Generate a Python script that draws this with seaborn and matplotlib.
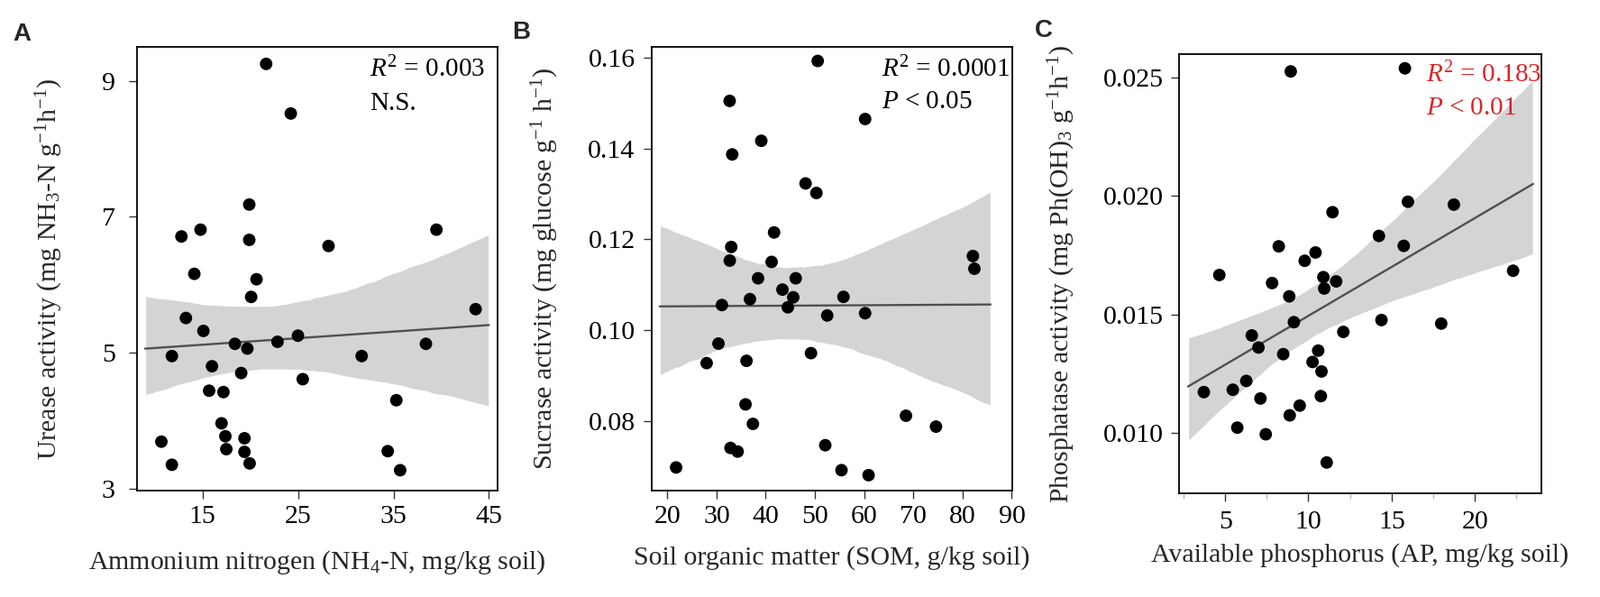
import numpy as np
import seaborn as sns
import matplotlib.pyplot as plt
from matplotlib.collections import PolyCollection

# Panel A: ammonium nitrogen vs urease activity
nh4 = [21.67, 24.25, 19.9, 12.8, 14.8, 19.9, 28.2, 39.5, 14.15, 20.66, 20.1, 13.27,
       15.1, 18.4, 19.7, 22.86, 25.0, 11.8, 16.0, 31.67, 38.4, 19.06, 25.5, 15.7,
       17.2, 35.3, 17.0, 17.4, 19.4, 10.7, 17.5, 19.4, 11.8, 19.94, 34.4, 35.7, 43.6]
urease = [9.25, 8.52, 7.18, 6.71, 6.81, 6.66, 6.57, 6.81, 6.16, 6.08, 5.82, 5.51,
          5.32, 5.13, 5.06, 5.16, 5.25, 4.95, 4.80, 4.95, 5.13, 4.70, 4.61, 4.44,
          4.42, 4.30, 3.96, 3.77, 3.74, 3.69, 3.58, 3.54, 3.35, 3.37, 3.55, 3.27, 5.64]

# Panel B: soil organic matter vs sucrase activity
som = [50.57, 32.67, 60.2, 39.1, 33.2, 48.1, 50.3, 41.7, 33.0, 32.7, 41.2, 38.45,
       46.1, 43.4, 45.6, 36.8, 55.8, 31.1, 44.5, 52.5, 60.2, 30.4, 49.2, 28.0,
       36.1, 35.9, 37.4, 68.5, 74.6, 32.85, 34.3, 52.1, 21.8, 55.4, 60.9, 82.1, 82.4]
sucrase = [0.1593, 0.1505, 0.1465, 0.1417, 0.1387, 0.1323, 0.1302, 0.1215, 0.1183,
           0.1153, 0.1150, 0.1114, 0.1114, 0.1089, 0.1072, 0.1068, 0.1073, 0.1055,
           0.1050, 0.1032, 0.1037, 0.0970, 0.0949, 0.0927, 0.0932, 0.0836, 0.0793,
           0.0811, 0.0787, 0.0740, 0.0732, 0.0746, 0.0697, 0.0691, 0.0680, 0.1163, 0.1135]

# Panel C: available phosphorus vs phosphatase activity
ap = [8.94, 11.45, 14.24, 8.22, 10.43, 9.78, 4.65, 10.9, 11.67, 7.82, 10.95, 8.85,
      9.13, 14.39, 12.1, 6.6, 7.0, 8.49, 10.59, 10.25, 10.79, 6.27, 3.72, 5.46,
      7.12, 10.75, 9.48, 8.88, 5.73, 7.44, 11.1, 15.8, 15.98, 18.74, 15.73, 22.3, 17.98]
phosphatase = [0.02525, 0.01931, 0.01831, 0.01787, 0.01761, 0.01726, 0.01666, 0.01657,
               0.01639, 0.01632, 0.01609, 0.01576, 0.01467, 0.01476, 0.01426, 0.01411,
               0.01360, 0.01332, 0.01347, 0.01299, 0.01259, 0.01219, 0.01172, 0.01182,
               0.01145, 0.01155, 0.01115, 0.01074, 0.01022, 0.00994, 0.00875, 0.02538,
               0.01975, 0.01963, 0.01789, 0.01684, 0.01461]

sns.set_style('ticks')
plt.rcParams['font.family'] = ['Liberation Serif', 'DejaVu Serif']
plt.rcParams['mathtext.fontset'] = 'custom'
plt.rcParams['mathtext.rm'] = 'Liberation Serif'
plt.rcParams['mathtext.it'] = 'Liberation Serif:italic'
plt.rcParams['mathtext.bf'] = 'Liberation Serif:bold'

W, H = 1775, 662
fig = plt.figure(figsize=(W / 100, H / 100), dpi=100)

panels = [
    dict(letter='A', x=nh4, y=urease, box=(152, 52, 552, 544), letter_xy=(14, 45),
         fit=(9.0, 45.0), xlim=(8.15, 45.9), ylim=(2.97, 9.5),
         xticks=[15, 25, 35, 45], yticks=[3, 5, 7, 9], yfmt='{:.0f}',
         xlabel='Ammonium nitrogen (NH$_4$-N, mg/kg soil)',
         ylabel='Urease activity (mg NH$_3$-N g$^{-1}$h$^{-1}$)',
         ylab_x=-0.20, xlab_y=-0.13, ypad=11, xpad=5,
         note=['$R^2$ = 0.003', 'N.S.'], note_xy=(0.645, 0.933, 0.858), note_color='black'),
    dict(letter='B', x=som, y=sucrase, box=(723, 52, 1123, 544), letter_xy=(568, 43),
         fit=(18.45, 85.7), xlim=(16.84, 90.1), ylim=(0.0646, 0.1624),
         xticks=[20, 30, 40, 50, 60, 70, 80, 90], yticks=[0.08, 0.10, 0.12, 0.14, 0.16],
         yfmt='{:.2f}',
         xlabel='Soil organic matter (SOM, g/kg soil)',
         ylabel='Sucrase activity (mg glucose g$^{-1}$ h$^{-1}$)',
         ylab_x=-0.252, xlab_y=-0.125, ypad=6.8, xpad=5,
         note=['$R^2$ = 0.0001', '$P$ < 0.05'], note_xy=(0.638, 0.932, 0.861), note_color='black'),
    dict(letter='C', x=ap, y=phosphatase, box=(1308, 60, 1710, 547), letter_xy=(1148, 41),
         fit=(2.77, 23.5), xlim=(2.23, 24.0), ylim=(0.00745, 0.02598),
         xticks=[5, 10, 15, 20], yticks=[0.010, 0.015, 0.020, 0.025], yfmt='{:.3f}',
         xlabel='Available phosphorus (AP, mg/kg soil)',
         ylabel='Phosphatase activity (mg Ph(OH)$_3$ g$^{-1}$h$^{-1}$)',
         ylab_x=-0.28, xlab_y=-0.114, ypad=5.5, xpad=7,
         note=['$R^2$ = 0.183', '$P$ < 0.01'], note_xy=(0.681, 0.935, 0.862), note_color='#d7262b'),
]

for p in panels:
    l, t, r, b = p['box']
    ax = fig.add_axes([l / W, 1 - b / H, (r - l) / W, (b - t) / H])
    ax.set_xlim(*p['fit'])
    sns.regplot(x=np.array(p['x']), y=np.array(p['y']), ax=ax, ci=95, n_boot=2000,
                seed=3, truncate=False,
                scatter_kws=dict(s=100, color='black', edgecolor='none', alpha=1, zorder=3),
                line_kws=dict(color='#505050', lw=1.7, zorder=2))
    for coll in ax.collections:
        if isinstance(coll, PolyCollection):
            coll.set_facecolor('#d4d4d4')
            coll.set_alpha(1)
            coll.set_zorder(1)
    ax.set_xlim(*p['xlim'])
    ax.set_ylim(*p['ylim'])
    ax.set_xticks(p['xticks'])
    ax.set_xticklabels([str(v) for v in p['xticks']])
    ax.set_yticks(p['yticks'])
    ax.set_yticklabels([p['yfmt'].format(v) for v in p['yticks']])
    for s in ax.spines.values():
        s.set_visible(True)
        s.set_linewidth(1.3)
        s.set_color('black')
    ax.tick_params(axis='both', direction='out', length=6.5, width=1.0, color='#333333',
                   labelsize=21.5, labelcolor='black')
    ax.tick_params(axis='y', pad=p['ypad'])
    ax.tick_params(axis='x', pad=p['xpad'])
    ax.set_xlabel(p['xlabel'], fontsize=21.5)
    ax.set_ylabel(p['ylabel'], fontsize=21.5)
    ax.xaxis.set_label_coords(0.5, p['xlab_y'])
    ax.yaxis.set_label_coords(p['ylab_x'], 0.5)
    nx, ny1, ny2 = p['note_xy']
    ax.text(nx, ny1, p['note'][0], transform=ax.transAxes, fontsize=21,
            color=p['note_color'], va='baseline', ha='left')
    ax.text(nx, ny2, p['note'][1], transform=ax.transAxes, fontsize=21,
            color=p['note_color'], va='baseline', ha='left')
    if p['letter'] == 'C':
        ax.set_xticks([2.5, 7.5, 12.5, 17.5, 22.5], minor=True)
        ax.tick_params(axis='x', which='minor', length=4, width=0.8, color='#b0b0b0')
    lx, ly = p['letter_xy']
    fig.text(lx / W, 1 - ly / H, p['letter'], fontsize=20, fontweight='bold',
             family=['Liberation Sans', 'DejaVu Sans'], va='baseline', ha='left')

fig.savefig('out.png', dpi=100)
